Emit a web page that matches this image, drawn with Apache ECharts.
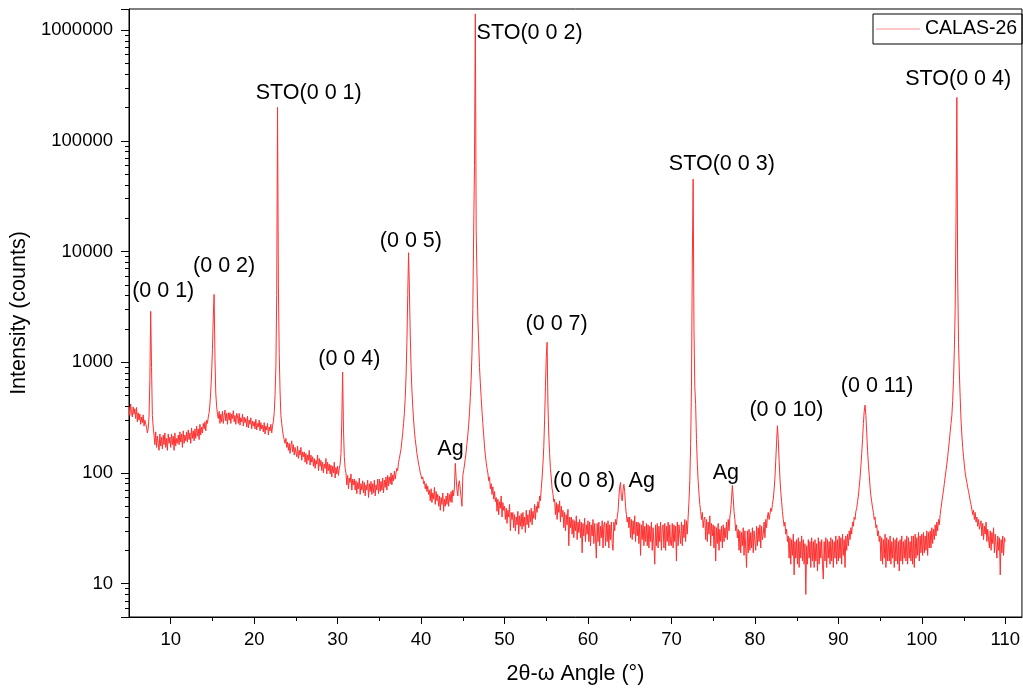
<!DOCTYPE html>
<html><head><meta charset="utf-8">
<script src="https://cdn.jsdelivr.net/npm/echarts@6/dist/echarts.min.js"></script>
<style>html,body{margin:0;padding:0;background:#fff}#chart{width:1023px;height:690px}</style>
</head><body><div id="chart"></div>
<script>
// sampling grid of the scan (degrees 2θ)
const angleStart = 5.0;
const angleStep = 0.1;
// intensity (counts), one value per grid step (one row per degree, 5° ... 109.9°, then 110°)
const intensity = [
 400,330,420,350,320,395,340,380,310,390,
 290,350,300,340,275,320,285,335,265,300,
 300,260,230,250,320,700,2880,900,330,260,
 220,180,235,170,215,185,160,225,175,210,
 165,220,180,230,170,205,160,225,185,210,
 170,225,180,215,160,230,175,205,185,220,
 180,235,190,225,170,240,185,220,195,235,
 190,245,200,230,185,255,205,240,195,250,
 205,265,215,250,200,275,220,260,230,280,
 250,290,240,300,280,320,350,420,560,800,
 1300,2600,4100,1100,520,400,340,310,360,280,
 340,290,360,280,330,370,295,345,275,350,
 300,350,280,340,310,365,290,330,275,345,
 330,280,345,270,315,290,340,265,320,285,
 310,260,325,255,300,275,315,250,295,265,
 290,250,305,245,280,260,300,240,285,250,
 270,235,285,225,265,245,280,220,260,240,
 275,230,265,290,350,500,900,4000,200000,5000,
 1200,550,330,280,240,215,200,185,205,170,
 190,160,185,150,175,195,155,180,145,170,
 165,140,175,135,160,145,170,130,155,140,
 155,125,150,120,145,130,160,118,145,125,
 140,115,135,110,130,120,145,105,135,115,
 130,105,125,100,120,110,135,98,125,105,
 120,98,118,92,115,100,125,90,112,98,
 115,95,110,120,150,300,815,250,140,110,
 100,78,95,72,90,82,98,70,88,78,
 88,70,85,65,82,72,90,64,80,70,
 85,66,82,62,78,70,86,60,80,68,
 84,64,80,66,86,62,78,70,88,65,
 88,68,84,70,90,66,86,74,92,70,
 95,76,92,80,100,78,96,85,104,88,
 100,110,105,125,135,150,165,195,230,280,
 350,480,750,1500,4000,9750,4500,1800,900,560,
 400,300,240,200,175,150,135,120,112,100,
 95,88,92,80,84,72,80,68,76,64,
 70,56,72,54,66,58,74,52,68,56,
 64,50,62,46,60,52,66,45,58,50,
 62,52,66,50,64,55,68,54,70,62,
 75,122,90,70,62,80,85,70,60,50,
 95,105,118,135,155,185,220,270,350,480,
 700,1200,3000,15000,60000,1400000,16000,6000,2500,1500,
 900,650,480,360,280,220,175,145,125,110,
 100,85,92,72,80,64,75,58,68,55,
 60,45,58,42,55,48,62,40,54,46,
 50,38,48,35,46,40,52,30,44,38,
 44,32,42,30,40,34,45,28,41,33,
 43,31,44,33,40,29,46,34,42,32,
 46,36,48,34,45,39,52,38,50,44,
 55,48,62,56,72,90,120,170,300,600,
 1100,1514,420,220,150,110,90,72,65,55,
 58,42,54,38,52,44,56,36,50,40,
 46,32,44,30,42,34,47,22,40,32,
 40,28,38,26,37,30,41,25,36,29,
 38,26,36,19,35,27,39,24,34,28,
 37,24,36,22,34,27,38,23,35,26,
 17,35,24,36,22,33,26,37,21,34,
 36,22,35,24,37,21,34,25,36,23,
 20,36,30,38,34,40,45,60,75,82,
 60,56,70,79,68,50,42,36,40,32,
 40,26,38,25,37,28,41,24,36,27,
 36,23,35,18,34,25,37,22,33,24,
 35,22,34,21,33,24,36,20,32,23,
 15,34,22,35,21,33,24,36,20,32,
 34,21,35,20,33,24,36,22,34,23,
 22,35,21,34,24,33,16,36,22,34,
 35,23,36,22,34,26,38,24,37,28,
 40,55,85,180,600,8000,45000,2000,600,414,
 200,120,85,65,52,45,38,44,32,38,
 40,25,38,24,36,28,41,22,35,27,
 34,21,33,16,32,23,35,20,31,24,
 33,21,34,24,32,26,36,25,38,30,
 40,46,58,77,60,45,38,30,34,26,
 31,20,30,19,29,22,32,18,30,21,
 14,30,19,31,20,29,21,32,19,30,
 31,20,33,22,32,24,34,21,33,25,
 28,36,26,38,32,40,44,38,42,48,
 45,52,58,70,90,130,190,267,200,130,
 90,68,55,45,38,33,36,28,31,24,
 27,17,26,15,25,18,28,12,24,17,
 25,15,26,14,24,17,27,16,25,15,
 23,8,22,15,25,17,24,14,26,16,
 24,14,25,16,23,13,26,15,24,17,
 25,15,11,24,16,26,14,25,17,24,
 15,26,16,25,14,24,17,27,15,25,
 16,27,17,26,15,28,18,25,14,27,
 20,28,22,30,25,32,28,36,33,40,
 38,45,48,55,62,75,90,115,150,200,
 280,360,410,330,230,160,120,95,75,62,
 55,48,44,38,40,32,34,27,30,24,
 27,16,26,15,25,17,28,14,26,16,
 25,16,27,15,24,17,26,14,25,16,
 26,15,24,13,25,16,27,15,24,17,
 25,16,27,15,26,17,24,16,27,15,
 27,14,28,17,26,18,29,16,27,19,
 28,18,29,19,27,20,30,18,29,21,
 30,21,32,23,31,25,34,27,36,30,
 38,34,42,48,55,62,70,80,92,105,
 120,140,165,195,235,280,330,450,700,1300,
 3000,20000,246000,6000,1500,800,480,300,220,170,
 140,118,100,90,82,74,68,62,56,52,
 50,42,46,38,44,36,40,33,38,31,
 30,37,27,35,25,33,28,36,24,31,
 31,21,30,20,29,23,32,19,28,22,
 17,27,20,26,12,25,19,27,18,26,
 24
];
const seriesName = 'CALAS-26';
const xTickValues = [10, 20, 30, 40, 50, 60, 70, 80, 90, 100, 110];
const xMinorTickValues = [15, 25, 35, 45, 55, 65, 75, 85, 95, 105];
// peak annotations (text, angle, counts at label centre)
const peakLabels = ['(0 0 1)', '(0 0 2)', 'STO(0 0 1)', '(0 0 4)', '(0 0 5)', 'Ag', 'STO(0 0 2)', '(0 0 7)',
  '(0 0 8)', 'Ag', 'STO(0 0 3)', 'Ag', '(0 0 10)', '(0 0 11)', 'STO(0 0 4)'];
const peakLabelAngles = [9.1, 16.4, 26.54, 31.4, 38.78, 43.52, 53.0, 56.24, 59.54, 66.44, 76.04, 76.52, 83.78, 94.64, 104.36];
const peakLabelCounts = [4350, 7450, 267000, 1067, 12500, 166, 944000, 2200, 84, 84, 61500, 99, 372, 610, 364000];

const X_MIN = 5, X_MAX = 112, Y_MIN = 5, Y_MAX = 1.55e6;
const FONT = "'Liberation Sans', Arial, sans-serif";

const data = intensity.map((v, i) => [+(angleStart + i * angleStep).toFixed(2), v]);
// minor tick marks on the bottom axis: [angle, counts at axis]
const xMinorTickData = xMinorTickValues.map(v => [v, Y_MIN]);

const chart = echarts.init(document.getElementById('chart'), null, {renderer: 'canvas'});
chart.setOption({
  animation: false,
  backgroundColor: '#fff',
  textStyle: {fontFamily: FONT, color: '#000'},
  grid: {left: 129, right: 1, top: 9, bottom: 70, show: true, borderColor: '#000', borderWidth: 1, backgroundColor: 'transparent'},
  legend: {
    data: [{name: seriesName}], left: 873, top: 14, orient: 'horizontal',
    padding: [5, 5, 5, 3], borderColor: '#000', borderWidth: 1, borderRadius: 0,
    icon: 'rect', itemWidth: 44, itemHeight: 1,
    itemStyle: {color: '#ff9090'},
    textStyle: {fontSize: 19.5, color: '#000', fontFamily: FONT}
  },
  xAxis: {
    type: 'value', min: X_MIN, max: X_MAX, position: 'bottom',
    axisLine: {show: true, onZero: false, lineStyle: {color: '#000', width: 1}},
    axisTick: {show: true, length: 7, customValues: xTickValues, lineStyle: {color: '#000', width: 1}},
    axisLabel: {customValues: xTickValues, fontSize: 18.5, color: '#000', margin: 13, fontFamily: FONT},
    splitLine: {show: false},
    name: '2θ-ω Angle (°)', nameLocation: 'middle', nameGap: 46,
    nameTextStyle: {fontSize: 21.5, color: '#000', fontFamily: FONT}
  },
  yAxis: {
    type: 'log', logBase: 10, min: Y_MIN, max: Y_MAX, position: 'left',
    axisLine: {show: true, onZero: false, lineStyle: {color: '#000', width: 1}},
    axisTick: {show: true, length: 8, lineStyle: {color: '#000', width: 1}},
    minorTick: {show: true, splitNumber: 9, length: 4, lineStyle: {color: '#000', width: 1}},
    axisLabel: {fontSize: 18.5, color: '#000', margin: 16, fontFamily: FONT, showMinLabel: false, showMaxLabel: false,
      formatter: v => String(Math.round(v))},
    splitLine: {show: false},
    minorSplitLine: {show: false},
    name: 'Intensity (counts)', nameLocation: 'middle', nameGap: 92,
    nameTextStyle: {fontSize: 21.5, color: '#000', fontFamily: FONT}
  },
  series: [{
    name: seriesName, type: 'line',
    data: data, symbol: 'none', showSymbol: false,
    lineStyle: {color: '#ff3030', width: 1}, itemStyle: {color: '#ff3030'},
    markPoint: {
      symbol: 'circle', symbolSize: 1, itemStyle: {color: 'rgba(0,0,0,0)'},
      label: {show: true, position: 'inside', formatter: '{b}', fontSize: 21.5, color: '#000', fontFamily: FONT},
      data: peakLabels.map((t, i) => ({name: t, coord: [peakLabelAngles[i], peakLabelCounts[i]]}))
    }
  }, {
    name: 'xMinorTicks', type: 'custom', silent: true, clip: false, z: 5,
    data: xMinorTickData,
    renderItem: (params, api) => {
      const p = api.coord([api.value(0), api.value(1)]);
      const x = Math.round(p[0]) + 0.5;
      return {type: 'line', shape: {x1: x, y1: p[1], x2: x, y2: p[1] + 4}, style: {stroke: '#000', lineWidth: 1}};
    }
  }]
});
</script></body></html>
